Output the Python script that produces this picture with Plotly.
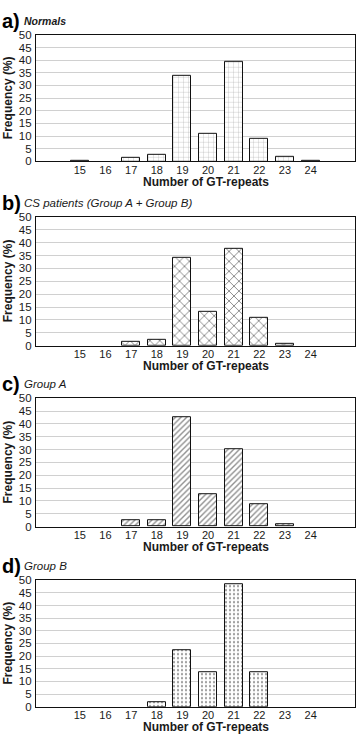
import plotly.graph_objects as go

repeats = [15, 16, 17, 18, 19, 20, 21, 22, 23, 24]
normals = [0.3, 0, 1.5, 2.7, 34.0, 10.8, 39.5, 8.9, 1.8, 0.3]
cs_patients = [0, 0, 1.6, 2.4, 34.0, 13.1, 37.5, 10.7, 0.8, 0]
group_a = [0, 0, 2.5, 2.5, 42.5, 12.8, 30.1, 8.8, 1.1, 0]
group_b = [0, 0, 0, 1.6, 22.4, 13.8, 48.3, 13.8, 0, 0]

panel_letters = ["a)", "b)", "c)", "d)"]
panel_titles = ["Normals", "CS patients (Group A + Group B)", "Group A", "Group B"]
series = [normals, cs_patients, group_a, group_b]
y_ticks = [0, 5, 10, 15, 20, 25, 30, 35, 40, 45, 50]
x_title = "Number of GT-repeats"
y_title = "Frequency (%)"

W, H = 356, 738
# plot area pixel boxes (top, bottom)
boxes = [(29.3, 158.0), (214.3, 345.3), (398.7, 529.3), (583.7, 712.3)]
x_left, x_right = 36.0, 355.0
patterns = [
    dict(shape="+", size=5, solidity=0.12, fgcolor="#555", bgcolor="white"),
    dict(shape="x", size=7, solidity=0.25, fgcolor="#111", bgcolor="white"),
    dict(shape="/", size=4, solidity=0.35, fgcolor="#222", bgcolor="white"),
    dict(shape=".", size=4, solidity=0.25, fgcolor="#333", bgcolor="white"),
]
FONT = "Liberation Sans, Arial, sans-serif"
TXT = "#1a1a1a"

fig = go.Figure()
annotations = []
layout = {}
for i, (vals, pat, (top, bot)) in enumerate(zip(series, patterns, boxes)):
    ax = "" if i == 0 else str(i + 1)
    fig.add_trace(go.Bar(
        x=repeats, y=vals, width=0.7,
        marker=dict(color="white",
                    line=dict(color="#111", width=[1 if v > 0 else 0 for v in vals]),
                    pattern=pat),
        xaxis="x" + ax, yaxis="y" + ax, showlegend=False,
    ))
    ydom = [1 - bot / H, 1 - top / H]
    layout["xaxis" + ax] = dict(
        domain=[x_left / W, x_right / W], range=[13.29, 25.73],
        tickvals=repeats, ticktext=[str(r) for r in repeats],
        showgrid=False, zeroline=False, showline=True, linecolor="#111",
        linewidth=1.2, mirror=True, ticks="", anchor="y" + ax,
        ticklabelstandoff=-2,
        tickfont=dict(family=FONT, size=11, color=TXT),
    )
    layout["yaxis" + ax] = dict(
        domain=ydom, range=[0, 50], tickvals=y_ticks,
        showgrid=True, gridcolor="#d0d0d0", gridwidth=1, zeroline=False,
        showline=True, linecolor="#111", linewidth=1.2, mirror=True,
        ticks="", anchor="x" + ax, ticklabelstandoff=1,
        tickfont=dict(family=FONT, size=11.5, color=TXT),
    )
    # panel letter
    annotations.append(dict(
        text="<b>" + panel_letters[i] + "</b>", xref="paper", yref="paper",
        x=0, y=1 - (top - 14) / H, xanchor="left", yanchor="middle",
        showarrow=False, font=dict(family=FONT, size=20, color="#000"),
    ))
    title = panel_titles[i]
    if i == 0:
        title_txt, tsize = "<b><i>" + title + "</i></b>", 10.5
    else:
        title_txt, tsize = "<i>" + title + "</i>", 11.5
    annotations.append(dict(
        text=title_txt, xref="paper", yref="paper",
        x=22 / W, y=1 - (top - 14) / H, xanchor="left", yanchor="middle",
        showarrow=False, font=dict(family=FONT, size=tsize, color=TXT),
    ))
    # x title
    annotations.append(dict(
        text="<b>" + x_title + "</b>", xref="paper", yref="paper",
        x=206 / W, y=1 - (bot + 20.5) / H, xanchor="center", yanchor="middle",
        showarrow=False, font=dict(family=FONT, size=12, color=TXT),
    ))
    # y title
    annotations.append(dict(
        text="<b>" + y_title + "</b>", xref="paper", yref="paper",
        x=8 / W, y=1 - ((top + bot) / 2) / H, xanchor="center", yanchor="middle",
        textangle=-90, showarrow=False, font=dict(family=FONT, size=12, color=TXT),
    ))

fig.update_layout(
    width=W, height=H, margin=dict(l=0, r=0, t=0, b=0),
    paper_bgcolor="white", plot_bgcolor="white",
    annotations=annotations, bargap=0, **layout,
)
fig.write_html(
    "out.html",
    config={"displayModeBar": False},
    post_script="document.body.style.margin='0px';document.body.style.overflow='hidden';",
)
